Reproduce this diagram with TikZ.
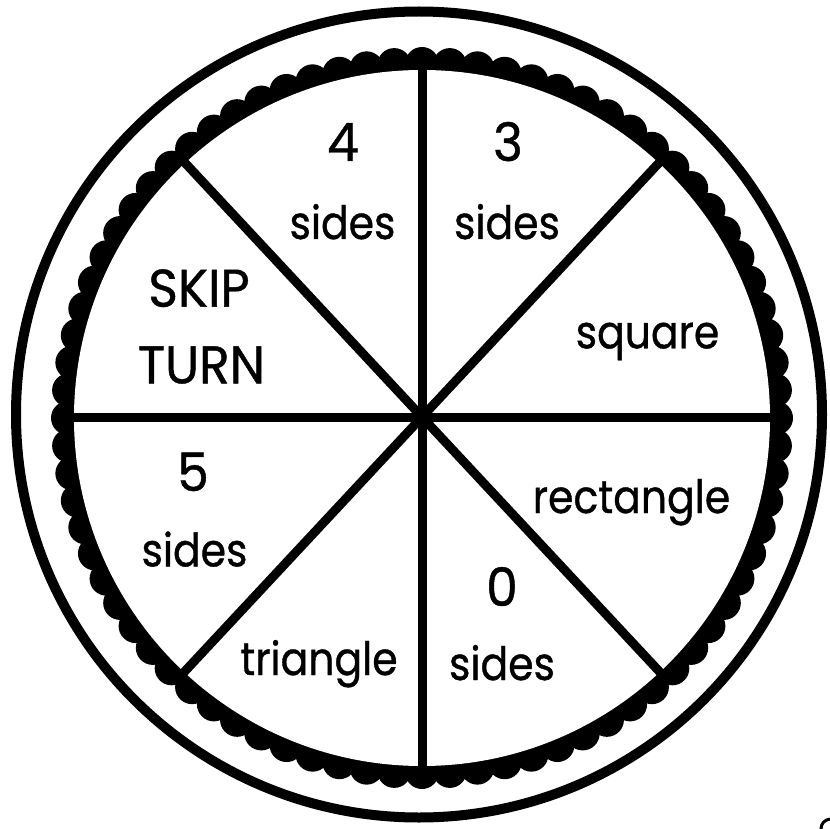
\documentclass[tikz,border=0pt]{standalone}
\usepackage{fontspec}
\setmainfont{Poppins}
\newfontfamily\lowfont{Poppins}[FakeStretch=0.89,FakeBold=0.8]
\newfontfamily\capfont{Poppins}[FakeStretch=0.95,FakeBold=0.8]
\usetikzlibrary{calc}
\tikzset{
  spoke/.style={line width=9pt},
  lbl/.style={anchor=base, inner sep=0pt, font=\lowfont\fontsize{46}{50}\selectfont},
  big/.style={anchor=base, inner sep=0pt, font=\capfont\fontsize{53}{56}\selectfont},
}
\begin{document}
\begin{tikzpicture}[x=1pt,y=-1pt]
\useasboundingbox (0,0) rectangle (830,829);
\fill[white] (0,0) rectangle (830,829);
% outer ring
\draw[line width=10pt] (419,414.5) circle (403pt);
% scalloped band
\coordinate (sc) at (422,418);
\fill[black] (sc) circle (356pt);
\foreach \a in {0,4.5,...,359} {
  \fill[black] ($(sc)+(\a:354)$) circle (17pt);
}
\fill[white] (sc) circle (348pt);
% spokes
\coordinate (c) at (422,417);
\foreach \n/\a in {e/0, ne/-47, n/-90, nw/-133, w/180, sw/133, s/90, se/47} {
  \coordinate (\n) at ($(c)+(\a:350)$);
}
\foreach \n in {e,ne,n,nw,w,sw,s,se} {
  \draw[spoke] (c) -- (\n);
}
\fill (c) circle (6pt);
% labels
\node[big] (t4) at (343,161) {4};
\node[lbl] (s4) at (342.5,239) {sides};
\node[big] (t3) at (508,161) {3};
\node[lbl] (s3) at (507,239) {sides};
\node[big] (skip) at (199,306.7) {SKIP};
\node[big] (turn) at (201.5,383.3) {TURN};
\node[lbl] (sq) at (647.5,348.3) {square};
\node[lbl] (rect) at (631.5,513) {rectangle};
\node[big] (t5) at (193,491) {5};
\node[lbl] (s5) at (194.5,566.4) {sides};
\node[big] (t0) at (502,606) {0};
\node[lbl] (s0) at (502,680) {sides};
\node[lbl] (tri) at (319,675) {triangle};
% fragment at the corner
\draw[line width=3pt] (830,819) .. controls (824,820) and (821,824) .. (821,829);
\end{tikzpicture}
\end{document}
